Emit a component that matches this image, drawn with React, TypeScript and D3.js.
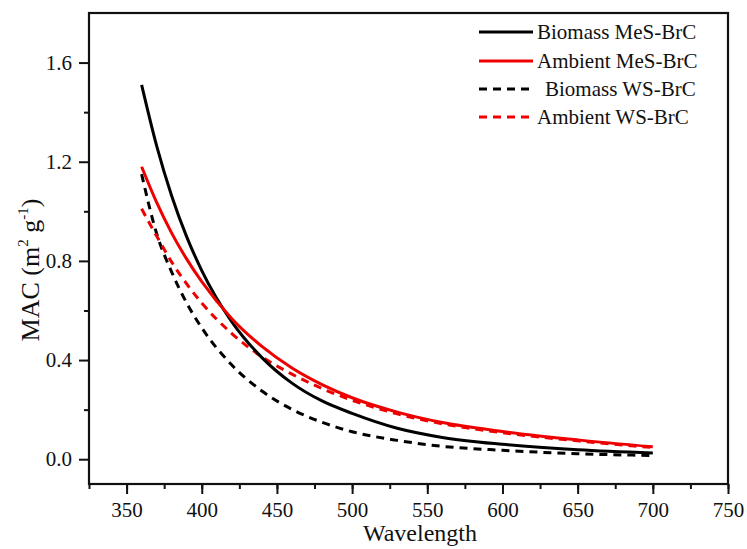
import React, { useEffect, useRef } from "react";
import * as d3 from "d3";

// wavelength grid (nm) the curves were read at
const wavelengths = [360, 370, 380, 390, 400, 420, 440, 460, 480, 500, 530, 560, 600, 650, 700];

// MAC values (m2 g-1)
const biomassMeS = [1.51, 1.264, 1.062, 0.897, 0.761, 0.554, 0.41, 0.307, 0.235, 0.185, 0.125, 0.088, 0.06, 0.038, 0.025];
const ambientMeS = [1.18, 1.036, 0.912, 0.807, 0.716, 0.567, 0.455, 0.368, 0.301, 0.248, 0.19, 0.148, 0.112, 0.078, 0.05];
const biomassWS = [1.15, 0.91, 0.755, 0.63, 0.53, 0.38, 0.275, 0.201, 0.149, 0.111, 0.076, 0.052, 0.036, 0.022, 0.015];
const ambientWS = [1.01, 0.9, 0.795, 0.707, 0.63, 0.507, 0.413, 0.343, 0.285, 0.238, 0.183, 0.143, 0.107, 0.074, 0.047];

const seriesNames = ["Biomass MeS-BrC", "Ambient MeS-BrC", "Biomass WS-BrC", "Ambient WS-BrC"];
const seriesColors = ["#000000", "#ee0000", "#000000", "#ee0000"];
const seriesDashed = [false, false, true, true];

const xTicks = [350, 400, 450, 500, 550, 600, 650, 700, 750];
const yTicks = [0.0, 0.4, 0.8, 1.2, 1.6];

const App = () => {
  const svgRef = useRef<SVGSVGElement>(null);

  useEffect(() => {
    const w = 747;
    const h = 549;
    const left = 89, right = 728, top = 13, bottom = 484;
    const font = "Liberation Serif, Times New Roman, serif";

    const svg = d3.select(svgRef.current);
    svg.selectAll("*").remove();
    svg.attr("width", w).attr("height", h)
      .style("background", "#fff")
      .style("font-family", font);

    //scales
    const x = d3.scaleLinear().domain([325, 750]).range([left, right]);
    const y = d3.scaleLinear().domain([-0.1, 1.8]).range([bottom, top]);

    //minor ticks
    svg.append("g")
      .attr("transform", `translate(0,${bottom})`)
      .call(d3.axisBottom(x).tickValues(d3.range(325, 751, 25)).tickSize(5).tickFormat(() => ""))
      .call(g => g.select(".domain").remove());
    svg.append("g")
      .attr("transform", `translate(${left},0)`)
      .call(d3.axisLeft(y).tickValues([0.2, 0.6, 1.0, 1.4]).tickSize(5).tickFormat(() => ""))
      .call(g => g.select(".domain").remove());

    //major ticks
    const xAxis = svg.append("g")
      .attr("transform", `translate(0,${bottom})`)
      .call(d3.axisBottom(x).tickValues(xTicks).tickSize(10).tickPadding(8).tickFormat(d3.format("d")));
    xAxis.select(".domain").remove();

    const yAxis = svg.append("g")
      .attr("transform", `translate(${left},0)`)
      .call(d3.axisLeft(y).tickValues(yTicks).tickSize(10).tickPadding(7).tickFormat(d3.format(".1f")));
    yAxis.select(".domain").remove();

    svg.selectAll(".tick text")
      .attr("font-family", null)
      .attr("font-size", null)
      .style("font-family", font)
      .style("font-size", "21px")
      .attr("fill", "#111");
    svg.selectAll("g").attr("font-family", null);
    svg.selectAll(".tick line").attr("stroke", "#111").attr("stroke-width", 2);

    // frame
    svg.append("rect")
      .attr("x", left).attr("y", top)
      .attr("width", right - left).attr("height", bottom - top)
      .attr("fill", "none").attr("stroke", "#111").attr("stroke-width", 2.2);

    // curves
    const allSeries = [biomassMeS, ambientMeS, biomassWS, ambientWS];
    const line = d3.line<number>()
      .x((d, i) => x(wavelengths[i]))
      .y(d => y(d))
      .curve(d3.curveMonotoneX);

    // draw WS first so the solid lines sit on top
    [2, 3, 0, 1].forEach(k => {
      svg.append("path")
        .attr("d", line(allSeries[k]))
        .attr("fill", "none")
        .attr("stroke", seriesColors[k])
        .attr("stroke-width", 3)
        .attr("stroke-dasharray", seriesDashed[k] ? "8,6" : null);
    });

    // legend
    const rowY = [32, 61, 89, 117];
    seriesNames.forEach((name, k) => {
      const g = svg.append("g").attr("transform", `translate(0,${rowY[k]})`);
      g.append("line")
        .attr("x1", 479).attr("x2", 533)
        .attr("stroke", seriesColors[k])
        .attr("stroke-width", 3)
        .attr("stroke-dasharray", seriesDashed[k] ? "8,6" : null);
      g.append("text")
        .attr("x", k === 2 ? 545 : 537)
        .attr("dy", "0.35em")
        .style("font-size", "21px")
        .attr("fill", "#111")
        .text(name);
    });

    // axis titles
    svg.append("text")
      .attr("x", 420).attr("y", 541)
      .attr("text-anchor", "middle")
      .style("font-size", "24px")
      .attr("fill", "#111")
      .text("Wavelength");

    const yTitle = svg.append("text")
      .attr("transform", `translate(39,270) rotate(-90)`)
      .attr("text-anchor", "middle")
      .style("font-size", "26px")
      .attr("fill", "#111");
    yTitle.append("tspan").text("MAC (m");
    yTitle.append("tspan").attr("dy", -11).style("font-size", "15px").text("2");
    yTitle.append("tspan").attr("dy", 11).text(" g");
    yTitle.append("tspan").attr("dy", -11).style("font-size", "15px").text("-1");
    yTitle.append("tspan").attr("dy", 11).text(")");
  }, []);

  return (
    <div style={{ position: "absolute", left: 0, top: 0 }}>
      <svg ref={svgRef}></svg>
    </div>
  );
};

export default App;
